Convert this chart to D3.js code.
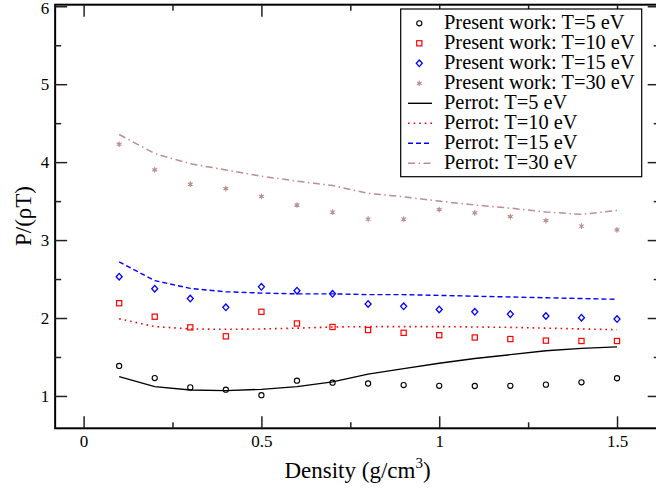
<!DOCTYPE html>
<html>
<head>
<meta charset="utf-8">
<script src="https://cdn.jsdelivr.net/npm/d3@7"></script>
<style>
  html, body { margin: 0; padding: 0; background: #fff; }
  svg { display: block; }
  text { font-family: "Liberation Serif", "DejaVu Serif", serif; fill: #000; }
</style>
</head>
<body>
<svg id="chart" width="656" height="492"></svg>
<script>
// Density grid (g/cm^3)
const density = [0.1, 0.2, 0.3, 0.4, 0.5, 0.6, 0.7, 0.8, 0.9, 1.0, 1.1, 1.2, 1.3, 1.4, 1.5];

// Present work, P/(rho T)
const present5  = [1.385, 1.23, 1.11, 1.08, 1.01, 1.196, 1.17, 1.16, 1.14, 1.13, 1.128, 1.13, 1.145, 1.175, 1.227];
const present10 = [2.19, 2.017, 1.88, 1.765, 2.08, 1.93, 1.885, 1.846, 1.81, 1.78, 1.75, 1.73, 1.71, 1.705, 1.705];
const present15 = [2.53, 2.376, 2.25, 2.137, 2.40, 2.35, 2.31, 2.18, 2.15, 2.11, 2.08, 2.05, 2.026, 2.004, 1.987];
const present30 = [4.23, 3.90, 3.718, 3.66, 3.56, 3.45, 3.36, 3.27, 3.27, 3.39, 3.35, 3.30, 3.25, 3.18, 3.13];

// Perrot, P/(rho T)
const perrot5  = [1.248, 1.12, 1.077, 1.068, 1.085, 1.12, 1.18, 1.28, 1.35, 1.42, 1.48, 1.53, 1.58, 1.61, 1.63];
const perrot10 = [1.99, 1.89, 1.86, 1.855, 1.86, 1.87, 1.885, 1.89, 1.89, 1.89, 1.885, 1.88, 1.87, 1.86, 1.85];
const perrot15 = [2.72, 2.48, 2.38, 2.337, 2.32, 2.31, 2.31, 2.30, 2.30, 2.29, 2.28, 2.27, 2.26, 2.25, 2.24];
const perrot30 = [4.355, 4.11, 3.98, 3.90, 3.82, 3.756, 3.70, 3.60, 3.555, 3.50, 3.45, 3.41, 3.36, 3.33, 3.38];

// Axis ticks
const xMajorTicks = [0, 0.5, 1, 1.5];
const xMinorTicks = [0.25, 0.75, 1.25];
const yMajorTicks = [1, 2, 3, 4, 5, 6];
const yMinorTicks = [1.5, 2.5, 3.5, 4.5, 5.5];
const xTickLabels = ["0", "0.5", "1", "1.5"];
const yTickLabels = ["1", "2", "3", "4", "5", "6"];

// Legend entries
const legendLabels = [
  "Present work: T=5 eV", "Present work: T=10 eV", "Present work: T=15 eV", "Present work: T=30 eV",
  "Perrot: T=5 eV", "Perrot: T=10 eV", "Perrot: T=15 eV", "Perrot: T=30 eV"
];

const svg = d3.select("#chart");
const x = d3.scaleLinear().domain([-0.08, 1.62]).range([55.15, 659.7]);
const y = d3.scaleLinear().domain([0.585, 6.02]).range([428.3, 4.7]);
const X0 = x.range()[0], X1 = x.range()[1], Y0 = y.range()[0], Y1 = y.range()[1];

const styles = {
  black: "#000000", red: "#ff0000", blue: "#0000ff", rosy: "#bc8f8f"
};

// Curves (Perrot)
const lineGen = d3.line().x((d, i) => x(density[i])).y(d => y(d));
const curves = [
  { data: perrot5,  color: styles.black, dash: null, width: 1.4 },
  { data: perrot10, color: styles.red,   dash: "1.6,4", width: 1.6 },
  { data: perrot15, color: styles.blue,  dash: "5,3", width: 1.4 },
  { data: perrot30, color: styles.rosy,  dash: "7,3.5,1.5,3.5", width: 1.5 }
];
curves.forEach(c => {
  svg.append("path")
    .attr("d", lineGen(c.data))
    .attr("fill", "none")
    .attr("stroke", c.color)
    .attr("stroke-width", c.width)
    .attr("stroke-dasharray", c.dash);
});

// Symbol drawing helper
function drawSymbol(g, kind, cx, cy) {
  if (kind === "circle") {
    g.append("circle").attr("cx", cx).attr("cy", cy).attr("r", 2.6)
      .attr("fill", "none").attr("stroke", styles.black).attr("stroke-width", 1.1);
  } else if (kind === "square") {
    g.append("rect").attr("x", cx - 2.6).attr("y", cy - 2.6).attr("width", 5.2).attr("height", 5.2)
      .attr("fill", "none").attr("stroke", styles.red).attr("stroke-width", 1.2);
  } else if (kind === "diamond") {
    g.append("path")
      .attr("d", `M${cx},${cy - 3.3}L${cx + 3},${cy}L${cx},${cy + 3.3}L${cx - 3},${cy}Z`)
      .attr("fill", "none").attr("stroke", styles.blue).attr("stroke-width", 1.3);
  } else if (kind === "star") {
    g.append("circle").attr("cx", cx).attr("cy", cy).attr("r", 1.6)
      .attr("fill", styles.rosy).attr("opacity", 0.9);
    g.append("path")
      .attr("transform", `translate(${cx},${cy})`)
      .attr("d", d3.symbol(d3.symbolAsterisk, 22)())
      .attr("fill", "none").attr("stroke", styles.rosy).attr("stroke-width", 1.1);
  }
}

// Points (Present work)
const pointSets = [
  { data: present5,  kind: "circle" },
  { data: present10, kind: "square" },
  { data: present15, kind: "diamond" },
  { data: present30, kind: "star" }
];
const pts = svg.append("g");
pointSets.forEach(s => {
  s.data.forEach((v, i) => drawSymbol(pts, s.kind, x(density[i]), y(v)));
});

// Frame
svg.append("rect")
  .attr("x", X0).attr("y", Y1).attr("width", X1 - X0).attr("height", Y0 - Y1)
  .attr("fill", "none").attr("stroke", "#000").attr("stroke-width", 2);

// Ticks (inward on all four sides)
function styleAxis(g) {
  g.select(".domain").remove();
  g.selectAll(".tick line").attr("stroke", "#222").attr("stroke-width", 1.5);
  g.selectAll(".tick text")
    .attr("font-family", '"Liberation Serif", serif')
    .attr("font-size", 17).attr("fill", "#000");
}
svg.append("g").attr("transform", `translate(0,${Y0})`)
  .call(d3.axisBottom(x).tickValues(xMajorTicks).tickSize(-12).tickPadding(7)
    .tickFormat((d, i) => xTickLabels[i]))
  .call(styleAxis);
svg.append("g").attr("transform", `translate(0,${Y0})`)
  .call(d3.axisBottom(x).tickValues(xMinorTicks).tickSize(-6).tickFormat(""))
  .call(styleAxis);
svg.append("g").attr("transform", `translate(0,${Y1})`)
  .call(d3.axisTop(x).tickValues(xMajorTicks).tickSize(-12).tickFormat(""))
  .call(styleAxis);
svg.append("g").attr("transform", `translate(0,${Y1})`)
  .call(d3.axisTop(x).tickValues(xMinorTicks).tickSize(-6).tickFormat(""))
  .call(styleAxis);
const yAxisG = svg.append("g").attr("transform", `translate(${X0},0)`)
  .call(d3.axisLeft(y).tickValues(yMajorTicks).tickSize(-12).tickPadding(6)
    .tickFormat((d, i) => yTickLabels[i]))
  .call(styleAxis);
// keep the topmost label inside the canvas
yAxisG.selectAll(".tick text").filter(d => d === 6).attr("dy", "0.45em");
svg.append("g").attr("transform", `translate(${X0},0)`)
  .call(d3.axisLeft(y).tickValues(yMinorTicks).tickSize(-6).tickFormat(""))
  .call(styleAxis);
svg.append("g").attr("transform", `translate(${X1},0)`)
  .call(d3.axisRight(y).tickValues(yMajorTicks).tickSize(-12).tickFormat(""))
  .call(styleAxis);
svg.append("g").attr("transform", `translate(${X1},0)`)
  .call(d3.axisRight(y).tickValues(yMinorTicks).tickSize(-6).tickFormat(""))
  .call(styleAxis);

// Axis titles
const xt = svg.append("text")
  .attr("x", 357.5).attr("y", 478)
  .attr("text-anchor", "middle")
  .attr("font-size", 23);
xt.append("tspan").text("Density (g/cm");
xt.append("tspan").attr("font-size", 15).attr("dy", -10).text("3");
xt.append("tspan").attr("dy", 10).text(")");

svg.append("text")
  .attr("transform", "translate(31,216) rotate(-90)")
  .attr("text-anchor", "middle")
  .attr("font-size", 23)
  .text("P/(ρT)");

// Legend
const lg = svg.append("g");
lg.append("rect")
  .attr("x", 400.7).attr("y", 9).attr("width", 241).attr("height", 167.7)
  .attr("fill", "#fff").attr("stroke", "#000").attr("stroke-width", 1.2);
const symKinds = ["circle", "square", "diamond", "star"];
legendLabels.forEach((label, i) => {
  const base = 29.3 + 20 * i;
  const cy = base - 6;
  if (i < 4) {
    drawSymbol(lg, symKinds[i], 419.3, cy);
  } else {
    const c = curves[i - 4];
    lg.append("line")
      .attr("x1", 408).attr("x2", 432).attr("y1", cy).attr("y2", cy)
      .attr("stroke", c.color).attr("stroke-width", c.width)
      .attr("stroke-dasharray", c.dash);
  }
  lg.append("text")
    .attr("x", 444).attr("y", base)
    .attr("font-size", 20.4)
    .text(label);
});
</script>
</body>
</html>
